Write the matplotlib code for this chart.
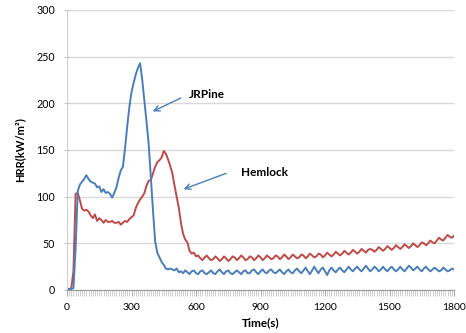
import numpy as np
import matplotlib
matplotlib.use("Agg")
import matplotlib.pyplot as plt

# time axis (s), sampled every 10 s
time_s = np.arange(0, 1810, 10)

jrpine = [
    0, 1, 1, 2, 45, 106, 113, 116, 119, 123,
    119, 116, 115, 114, 110, 111, 105, 108, 104, 105,
    103, 99, 104, 110, 120, 128, 132, 152, 175, 196,
    212, 222, 231, 238, 243, 225, 203, 180, 156, 120,
    85, 52, 40, 35, 30, 27, 23, 22, 23, 22,
    21, 23, 19, 20, 18, 21, 19, 17, 20, 21,
    18, 17, 20, 21, 18, 17, 19, 21, 18, 17,
    20, 22, 19, 17, 20, 21, 18, 17, 19, 21,
    19, 17, 20, 21, 18, 18, 21, 22, 19, 17,
    20, 22, 19, 18, 21, 22, 19, 18, 20, 22,
    19, 17, 20, 22, 19, 18, 21, 23, 20, 18,
    21, 24, 20, 17, 21, 25, 21, 18, 22, 24,
    20, 16, 21, 24, 21, 19, 22, 24, 21, 19,
    22, 25, 22, 20, 23, 25, 22, 20, 23, 26,
    23, 20, 22, 25, 23, 20, 22, 25, 22, 20,
    23, 25, 22, 20, 22, 25, 22, 20, 23, 26,
    24, 21, 23, 25, 22, 20, 23, 25, 22, 20,
    22, 24, 22, 20, 21, 24, 22, 20, 21, 23,
    22,
]

hemlock = [
    1, 1, 2, 20, 103, 104, 96, 87, 85, 86,
    84, 80, 77, 81, 74, 77, 75, 72, 75, 73,
    73, 74, 72, 72, 73, 70, 72, 74, 73, 76,
    78, 80, 88, 93, 97, 100, 104, 112, 117, 118,
    125, 132, 137, 139, 142, 149, 146, 140, 133, 125,
    112, 100, 88, 72, 60, 54, 51, 42, 39, 40,
    36, 37, 34, 32, 35, 37, 34, 32, 33, 36,
    34, 31, 33, 36, 34, 31, 33, 36, 35, 32,
    34, 37, 35, 32, 33, 36, 35, 32, 34, 37,
    35, 32, 34, 37, 35, 33, 34, 37, 36, 33,
    35, 38, 36, 33, 35, 38, 36, 34, 35, 38,
    37, 34, 36, 39, 37, 35, 36, 39, 38, 35,
    37, 40, 38, 36, 38, 41, 39, 37, 39, 42,
    40, 38, 40, 43, 41, 39, 41, 44, 42, 40,
    43, 44, 43, 41, 43, 46, 44, 42, 44, 47,
    45, 43, 45, 48, 46, 44, 46, 49, 47, 45,
    47, 50, 48, 46, 48, 51, 50, 48, 50, 53,
    51, 50, 53, 56, 54, 53, 56, 59, 57, 56,
    58,
]

x_ticks = [0, 300, 600, 900, 1200, 1500, 1800]
y_ticks = [0, 50, 100, 150, 200, 250, 300]

BLUE = "#4a7ebb"
RED = "#be4b48"
FONT = ["Lato", "DejaVu Sans"]

fig = plt.figure(figsize=(4.66, 3.33), dpi=100)
ax = fig.add_axes([67 / 466, 43 / 333, (454 - 67) / 466, 280 / 333])

ax.plot(time_s, hemlock, color=RED, lw=1.4)
ax.plot(time_s, jrpine, color=BLUE, lw=1.4)

ax.set_xlim(0, 1800)
ax.set_ylim(0, 300)
ax.set_xticks(x_ticks)
ax.set_yticks(y_ticks)
ax.set_xticks(time_s, minor=True)
ax.grid(axis="y", color="#d9d9d9", lw=1.0)
ax.set_axisbelow(True)

for s in ["top", "right"]:
    ax.spines[s].set_visible(False)
ax.spines["left"].set_color("#d0d0d0")
ax.spines["bottom"].set_color("#9a9a9a")

ax.tick_params(axis="y", length=5, direction="inout", color="#c8c8c8", pad=6, labelsize=7.7)
ax.tick_params(axis="x", which="major", length=4, color="#b0b0b0", pad=5, labelsize=7.5)
ax.tick_params(axis="x", which="minor", length=4, color="#c8c8c8", width=0.6)
for lab in ax.get_xticklabels() + ax.get_yticklabels():
    lab.set_fontfamily(FONT)

ax.set_xlabel("Time(s)", fontweight="bold", fontsize=8.5, family=FONT, labelpad=4)
ax.set_ylabel("HRR(kW/m²)", fontweight="bold", fontsize=8, family=FONT, labelpad=8)

ax.annotate("", xy=(387, 190), xytext=(541, 207),
            arrowprops=dict(arrowstyle="->", color=BLUE, lw=1.0))
ax.text(565, 209, "JRPine", fontweight="bold", fontsize=8.5, family=FONT, va="center")

ax.annotate("", xy=(530, 107), xytext=(752, 126),
            arrowprops=dict(arrowstyle="->", color=BLUE, lw=1.0))
ax.text(807, 126, "Hemlock", fontweight="bold", fontsize=8.5, family=FONT, va="center")

fig.savefig("out.png", dpi=100)
